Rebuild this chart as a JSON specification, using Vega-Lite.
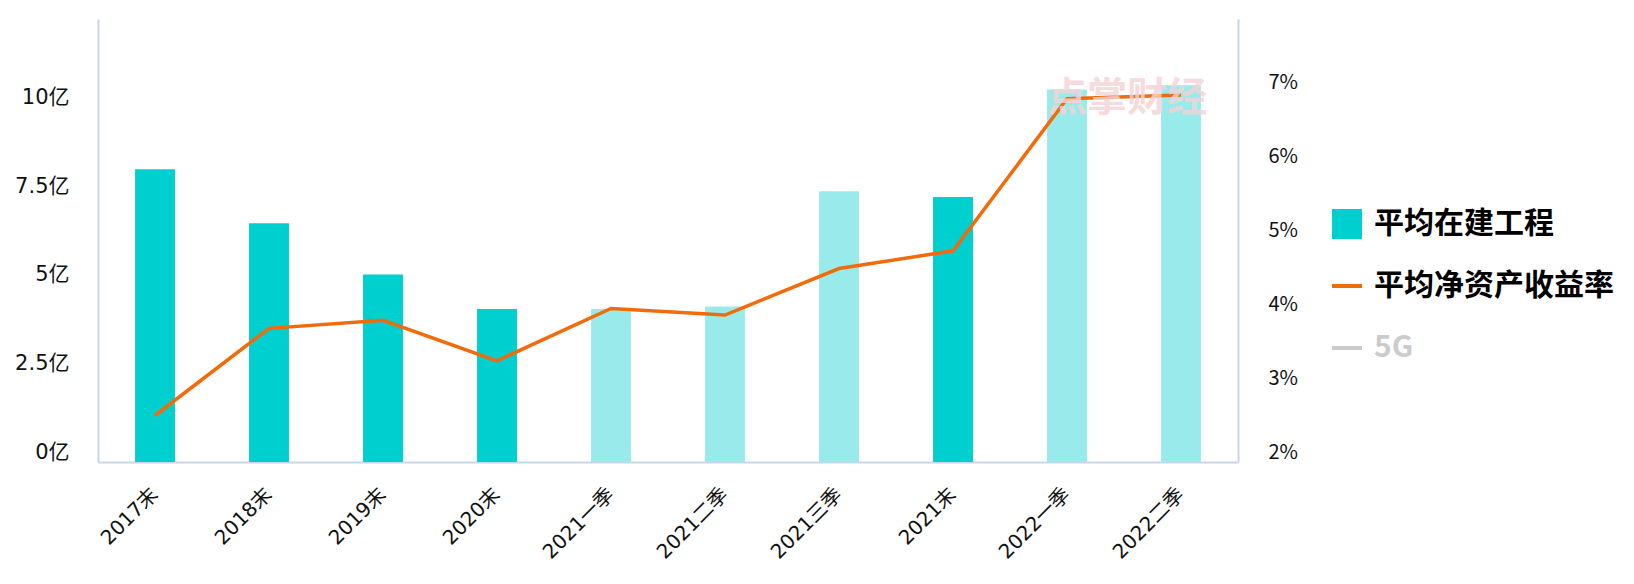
{
  "$schema": "https://vega.github.io/schema/vega-lite/v6.json",
  "width": 1140,
  "height": 443,
  "autosize": {"type": "none"},
  "padding": {"left": 98, "top": 19, "right": 396, "bottom": 122},
  "background": "#ffffff",
  "config": {
    "view": {"stroke": null},
    "font": "Noto Sans CJK SC",
    "axis": {
      "grid": false,
      "ticks": false,
      "domainColor": "#C9D5EA",
      "domainWidth": 2,
      "labelFont": "DejaVu Sans, Noto Sans CJK SC",
      "labelFontSize": 20,
      "labelColor": "#111111",
      "title": null
    }
  },
  "data": {
    "values": [
      {"period": "2017末", "cip": 8.26, "roe": 2.63, "kind": "平均在建工程"},
      {"period": "2018末", "cip": 6.74, "roe": 3.81, "kind": "平均在建工程"},
      {"period": "2019末", "cip": 5.29, "roe": 3.92, "kind": "平均在建工程"},
      {"period": "2020末", "cip": 4.32, "roe": 3.37, "kind": "平均在建工程"},
      {"period": "2021一季", "cip": 4.32, "roe": 4.08, "kind": "季度"},
      {"period": "2021二季", "cip": 4.39, "roe": 3.99, "kind": "季度"},
      {"period": "2021三季", "cip": 7.64, "roe": 4.62, "kind": "季度"},
      {"period": "2021末", "cip": 7.48, "roe": 4.86, "kind": "平均在建工程"},
      {"period": "2022一季", "cip": 10.51, "roe": 6.92, "kind": "季度"},
      {"period": "2022二季", "cip": 10.63, "roe": 6.97, "kind": "季度"}
    ]
  },
  "encoding": {
    "x": {
      "field": "period",
      "type": "nominal",
      "sort": null,
      "scale": {"paddingInner": 0, "paddingOuter": 0},
      "axis": {"labelAngle": -45, "labelPadding": 29, "labelBaseline": "middle", "labelAlign": "right"}
    }
  },
  "layer": [
    {
      "mark": {"type": "bar", "width": {"band": 0.35}},
      "encoding": {
        "y": {
          "field": "cip",
          "type": "quantitative",
          "scale": {"domain": [0, 12.5], "nice": false, "zero": true},
          "axis": {
            "orient": "left",
            "values": [0, 2.5, 5, 7.5, 10],
            "labelExpr": "datum.value + '亿'",
            "labelPadding": 29,
            "labelFontSize": 21,
            "labelBaseline": "bottom"
          }
        },
        "color": {
          "field": "kind",
          "type": "nominal",
          "scale": {
            "domain": ["平均在建工程", "平均净资产收益率", "5G", "季度"],
            "range": ["#00CFCF", "#F26B0A", "#CCCCCC", "#99EBEB"]
          },
          "legend": {
            "values": ["平均在建工程", "平均净资产收益率", "5G"],
            "orient": "none",
            "legendX": 1234,
            "legendY": 190,
            "title": null,
            "padding": 0,
            "symbolSize": 900,
            "symbolStrokeWidth": 4,
            "labelFont": "Noto Sans CJK SC",
            "labelFontSize": 30,
            "labelFontWeight": "bold",
            "labelColor": "#000000",
            "labelOffset": 12,
            "labelLimit": 400,
            "rowPadding": 32,
            "encode": {
              "symbols": {
                "update": {
                  "shape": {"signal": "datum.value === '平均在建工程' ? 'square' : 'stroke'"},
                  "fill": {"signal": "datum.value === '平均在建工程' ? '#00CFCF' : 'transparent'"},
                  "stroke": {"signal": "datum.value === '平均净资产收益率' ? '#F26B0A' : (datum.value === '5G' ? '#CCCCCC' : 'transparent')"},
                  "strokeWidth": {"signal": "datum.value === '平均在建工程' ? 0 : 4"},
                  "opacity": {"value": 1}
                }
              },
              "labels": {
                "update": {
                  "fill": {"signal": "datum.value === '5G' ? '#CCCCCC' : '#000000'"}
                }
              }
            }
          }
        }
      }
    },
    {
      "mark": {"type": "line", "strokeWidth": 3.5},
      "encoding": {
        "y": {
          "field": "roe",
          "type": "quantitative",
          "scale": {"domain": [2, 8], "nice": false, "zero": false},
          "axis": {
            "orient": "right",
            "values": [2, 3, 4, 5, 6, 7],
            "labelExpr": "datum.value + '%'",
            "labelPadding": 30,
            "labelFont": "Noto Sans CJK SC",
            "labelBaseline": "bottom"
          }
        },
        "color": {"datum": "平均净资产收益率"}
      }
    },
    {
      "data": {"values": [{"period": "2022一季", "wm": 10.24, "label": "点掌财经"}]},
      "mark": {"type": "text", "align": "left", "baseline": "middle", "dx": -20, "fontSize": 40, "fontWeight": "bold", "color": "#F3D3D6", "opacity": 0.8},
      "encoding": {
        "y": {"field": "wm", "type": "quantitative", "scale": {"domain": [0, 12.5], "nice": false}, "axis": null},
        "text": {"field": "label"}
      }
    }
  ],
  "resolve": {"scale": {"y": "independent"}}
}
